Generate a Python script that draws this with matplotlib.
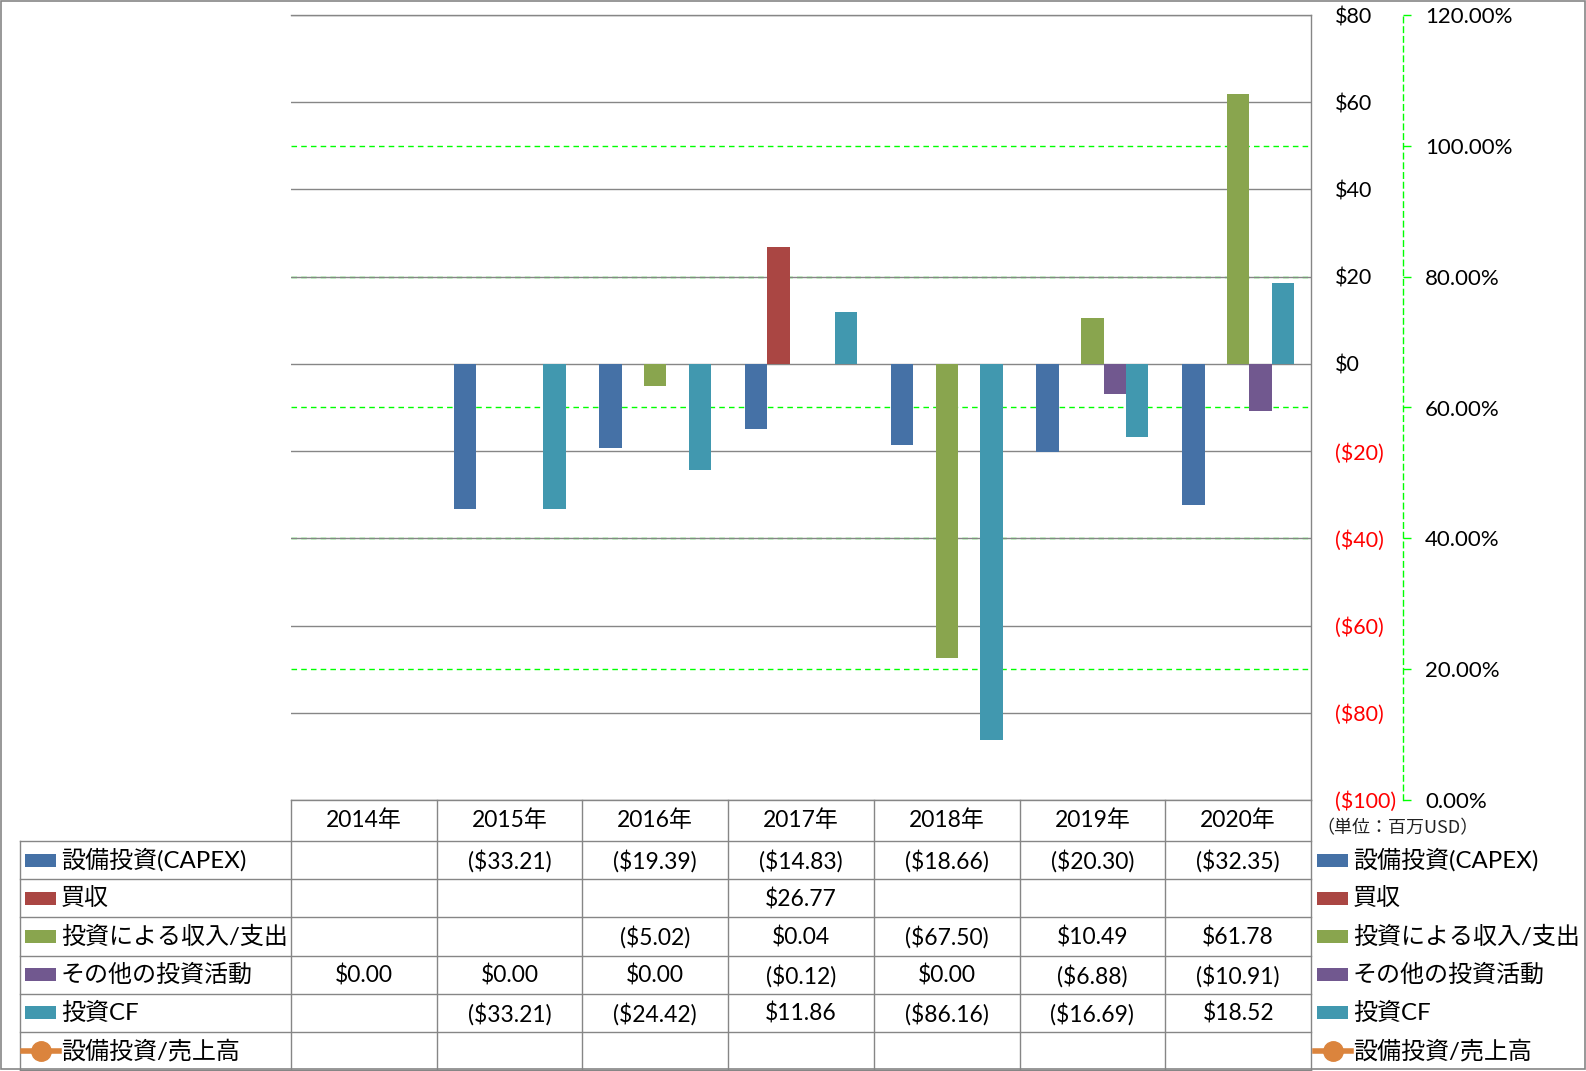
import numpy as np
import matplotlib
matplotlib.use("Agg")
import matplotlib.pyplot as plt
from matplotlib.patches import Rectangle
from matplotlib.lines import Line2D

plt.rcParams['font.family'] = ['Lato', 'Noto Sans CJK JP', 'DejaVu Sans']

# ---------------- data ----------------
years = ["2014年", "2015年", "2016年", "2017年", "2018年", "2019年", "2020年"]
nan = np.nan
capex = [nan, -33.21, -19.39, -14.83, -18.66, -20.30, -32.35]
acquisition = [nan, nan, nan, 26.77, nan, nan, nan]
invest_inout = [nan, nan, -5.02, 0.04, -67.50, 10.49, 61.78]
other_invest = [0.00, 0.00, 0.00, -0.12, 0.00, -6.88, -10.91]
invest_cf = [nan, -33.21, -24.42, 11.86, -86.16, -16.69, 18.52]
capex_ratio = [nan, nan, nan, nan, nan, nan, nan]

series_names = ["設備投資(CAPEX)", "買収", "投資による収入/支出", "その他の投資活動", "投資CF"]
line_name = "設備投資/売上高"
series_values = [capex, acquisition, invest_inout, other_invest, invest_cf]
colors = ["#4571A6", "#AA4643", "#89A54E", "#71588F", "#4198AF"]
line_color = "#DB843D"

left_ticks = [80, 60, 40, 20, 0, -20, -40, -60, -80, -100]
right_ticks = [0.0, 0.2, 0.4, 0.6, 0.8, 1.0, 1.2]

# ---------------- layout ----------------
W, H = 1586, 1071
fig = plt.figure(figsize=(W / 100, H / 100), dpi=100)
PL, PR, PT, PB = 291, 1311, 15, 800
GRAY = "#868686"

def fx(x):
    return x / W

def fy(y):
    return 1 - y / H

ax = fig.add_axes([fx(PL), fy(PB), (PR - PL) / W, (PB - PT) / H])
ax2 = ax.twinx()
ax.set_zorder(2)
ax2.set_zorder(1)
ax.patch.set_visible(False)

n_cat = len(years)
x = np.arange(n_cat)
n_ser = len(series_values)
bw = 1 / (n_ser + 1.5)
for i, (vals, c) in enumerate(zip(series_values, colors)):
    v = np.array(vals, dtype=float)
    m = ~np.isnan(v)
    ax.bar(x[m] + (i - (n_ser - 1) / 2) * bw, v[m], width=bw, color=c, zorder=3)

ax.set_xlim(-0.5, n_cat - 0.5)
ax.set_ylim(-100, 80)
ax.set_xticks([])

def money0(v):
    return f"(${-v:.0f})" if v < 0 else f"${v:.0f}"

def money2(v):
    if np.isnan(v):
        return ""
    return f"(${-v:.2f})" if v < 0 else f"${v:.2f}"

ax.set_yticks(left_ticks)
ax.set_yticklabels([money0(v) for v in left_ticks])
ax.yaxis.tick_right()
ax.tick_params(axis='y', length=0, pad=17, labelsize=15.5, labelright=True, labelleft=False)
for lbl, v in zip(ax.get_yticklabels(), left_ticks):
    lbl.set_color("red" if v < 0 else "black")
    lbl.set_horizontalalignment("left")
ax.grid(axis='y', color=GRAY, lw=1.0)
ax.set_axisbelow(True)
for s in ['left', 'bottom']:
    ax.spines[s].set_visible(False)
for s in ['right', 'top']:
    ax.spines[s].set_color(GRAY)
    ax.spines[s].set_linewidth(1.0)

# secondary axis
ax2.set_ylim(0, 1.2)
ax2.set_yticks(right_ticks)
ax2.set_yticklabels([f"{v*100:.2f}%" for v in right_ticks])
for t in right_ticks[1:-1]:
    ax2.axhline(t, color="#00FF00", ls=(0, (4, 3)), lw=1.0)
ax2.spines['right'].set_position(('axes', (1403 - PL) / (PR - PL)))
ax2.spines['right'].set_color("#00FF00")
ax2.spines['right'].set_linestyle((0, (4, 3)))
ax2.spines['right'].set_linewidth(1.0)
for s in ['left', 'top', 'bottom']:
    ax2.spines[s].set_visible(False)
ax2.tick_params(axis='y', direction='out', length=6, width=1, color="#00FF00",
                pad=10, labelsize=16, labelcolor='black')
ax2.set_xticks([])

# ---------------- table overlay ----------------
ov = fig.add_axes([0, 0, 1, 1], zorder=5)
ov.set_xlim(0, W)
ov.set_ylim(H, 0)
ov.axis('off')
ov.patch.set_visible(False)

# outer border
ov.add_patch(Rectangle((0.5, 0.5), W - 2, H - 2.5, fill=False, ec=GRAY, lw=1.2))

col_w = (PR - PL) / n_cat
header_top, header_bot = 800, 841
row_h = 38.2
n_rows = n_ser + 1
row_tops = [header_bot + k * row_h for k in range(n_rows + 1)]
TL = 20

lw_t = 1.0
ov.plot([PL, PR], [header_top, header_top], color=GRAY, lw=lw_t)
for k, yy in enumerate(row_tops):
    ov.plot([TL, PR], [yy, yy], color=GRAY, lw=lw_t)
ov.plot([TL, TL], [header_bot, row_tops[-1]], color=GRAY, lw=lw_t)
for k in range(n_cat + 1):
    xx = PL + k * col_w
    ov.plot([xx, xx], [header_top, row_tops[-1]], color=GRAY, lw=lw_t)

# header text
for k, yl in enumerate(years):
    ov.text(PL + (k + 0.5) * col_w, (header_top + header_bot) / 2, yl,
            ha='center', va='center', fontsize=16.5)

all_names = series_names + [line_name]
all_vals = series_values + [capex_ratio]
for r in range(n_rows):
    yc = row_tops[r] + row_h / 2
    for k in range(n_cat):
        ov.text(PL + (k + 0.5) * col_w, yc + 1, money2(all_vals[r][k]),
                ha='center', va='center', fontsize=16.5)
    for (kx, tx) in [(25, 61), (1317, 1353)]:
        if r < n_ser:
            ov.add_patch(Rectangle((kx, yc - 6.5), 31, 13, color=colors[r], lw=0))
        else:
            ov.add_line(Line2D([kx - 2, kx + 34], [yc, yc], color=line_color, lw=4))
            ov.plot([kx + 16], [yc], marker='o', ms=14, color=line_color, mec=line_color)
        ov.text(tx, yc, all_names[r], ha='left', va='center', fontsize=17.3)

# unit note
ov.text(1316, 828, "（単位：百万USD）", ha='left', va='center', fontsize=13,
        family=['Noto Sans CJK JP', 'DejaVu Sans'], color='#222222')

fig.savefig("out.png", dpi=100)
